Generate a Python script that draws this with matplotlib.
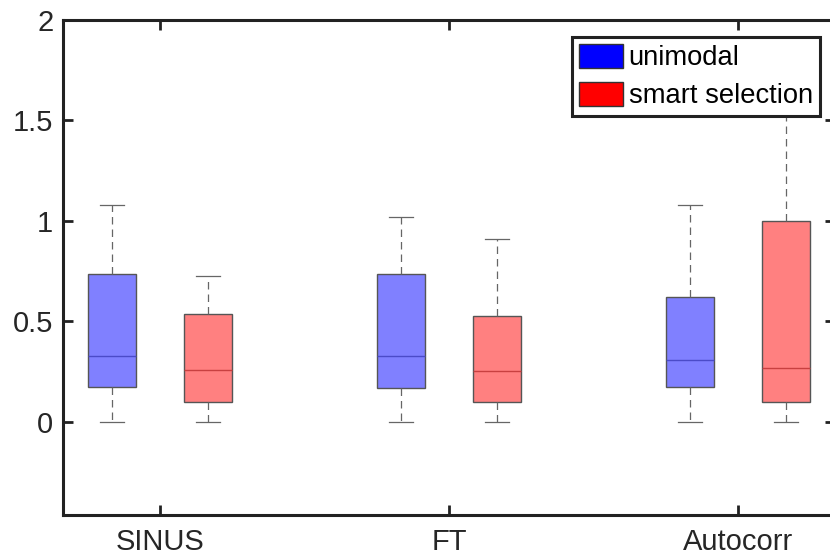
import matplotlib.pyplot as plt
from matplotlib.patches import Patch

plt.rcParams['font.family'] = ['Liberation Sans', 'DejaVu Sans']

categories = ["SINUS", "FT", "Autocorr"]
series = ["unimodal", "smart selection"]

# whisker low, Q1, median, Q3, whisker high
uni_low = [0.0, 0.0, 0.0]
uni_q1 = [0.17, 0.165, 0.17]
uni_med = [0.325, 0.325, 0.305]
uni_q3 = [0.735, 0.735, 0.62]
uni_high = [1.08, 1.02, 1.08]

sel_low = [0.0, 0.0, 0.0]
sel_q1 = [0.1, 0.1, 0.1]
sel_med = [0.255, 0.25, 0.265]
sel_q3 = [0.535, 0.525, 1.0]
sel_high = [0.725, 0.91, 1.75]


def make_stats(low, q1, med, q3, high):
    return [dict(whislo=a, q1=b, med=c, q3=d, whishi=e, fliers=[])
            for a, b, c, d, e in zip(low, q1, med, q3, high)]


fig = plt.figure(figsize=(8.3, 5.6), dpi=100)
ax = fig.add_axes([63 / 830, 45 / 560, 772 / 830, 495 / 560])

pos = list(range(1, len(categories) + 1))
styles = [
    (make_stats(uni_low, uni_q1, uni_med, uni_q3, uni_high), -0.167, "#8080ff", "#4b4bc8"),
    (make_stats(sel_low, sel_q1, sel_med, sel_q3, sel_high), 0.167, "#ff8080", "#c84040"),
]
for stats, off, fc, mc in styles:
    ax.bxp(stats, positions=[p + off for p in pos], widths=0.166,
           patch_artist=True, showfliers=False,
           boxprops=dict(facecolor=fc, edgecolor="#555555", linewidth=1),
           medianprops=dict(color=mc, linewidth=1),
           whiskerprops=dict(color="#666666", linestyle=(0, (6, 4)), linewidth=0.9),
           capprops=dict(color="#666666", linewidth=0.9),
           capwidths=0.083)

ax.set_xlim(0.665, 3.335)
ax.set_ylim(-0.465, 2)
ax.set_xticks(pos)
ax.set_xticklabels(categories)
ax.set_yticks([0, 0.5, 1, 1.5, 2])
ax.set_yticklabels(["0", "0.5", "1", "1.5", "2"])
ax.tick_params(direction="in", length=7, width=2, labelsize=21,
               top=True, right=True, colors="#222222", labelcolor="#262626")
ax.tick_params(axis="y", pad=7)
ax.tick_params(axis="x", pad=9)
for s in ax.spines.values():
    s.set_linewidth(2.2)
    s.set_color("#222222")

handles = [Patch(facecolor="#0000ff", edgecolor="#333333", label=series[0]),
           Patch(facecolor="#ff0000", edgecolor="#333333", label=series[1])]
leg = ax.legend(handles=handles, loc="upper left", bbox_to_anchor=(509 / 772, 478 / 495),
                fontsize=19.7, fancybox=False, framealpha=1, handlelength=1.6,
                handleheight=1.0, handletextpad=0.22, borderpad=0.25,
                labelspacing=0.38, borderaxespad=0)
leg.get_frame().set_edgecolor("#222222")
leg.get_frame().set_linewidth(2.2)

fig.savefig("out.png", dpi=100)
